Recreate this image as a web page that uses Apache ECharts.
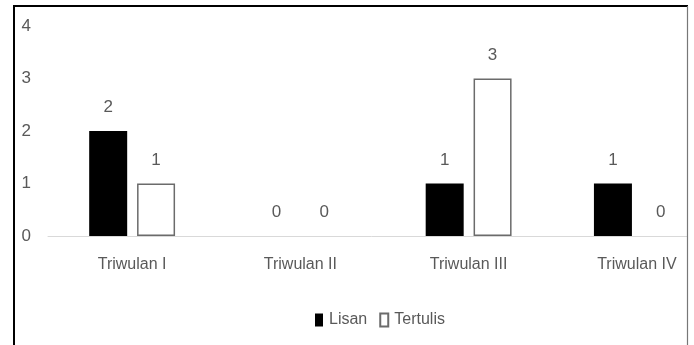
<!DOCTYPE html>
<html>
<head>
<meta charset="utf-8">
<script src="https://cdn.jsdelivr.net/npm/echarts@6/dist/echarts.min.js"></script>
<style>html,body{margin:0;padding:0;background:#fff}#c{width:694px;height:345px}</style>
</head>
<body>
<div id="c"></div>
<script>
const categories = ['Triwulan I', 'Triwulan II', 'Triwulan III', 'Triwulan IV'];
const lisan = [2, 0, 1, 1];
const tertulis = [1, 0, 3, 0];
const seriesNames = ['Lisan', 'Tertulis'];

const FONT = "'Liberation Sans Narrow', 'Liberation Sans', sans-serif";
const TXT = '#595959';
const chart = echarts.init(document.getElementById('c'), null, {renderer: 'canvas'});
const tertulisData = tertulis.map(v => (v === 0 ? {value: v, itemStyle: {borderWidth: 0}} : v));
chart.setOption({
  animation: false,
  backgroundColor: '#fff',
  textStyle: {fontFamily: FONT},
  grid: {left: 48, width: 673, top: 26, bottom: 109, containLabel: false, outerBoundsMode: 'none'},
  legend: {
    data: seriesNames,
    left: 310, top: 307,
    itemWidth: 8, itemHeight: 13, itemGap: 12,
    icon: 'rect',
    textStyle: {fontFamily: FONT, fontSize: 16, color: TXT, padding: [0,0,0,1]}
  },
  xAxis: {
    type: 'category', data: categories,
    axisLine: {lineStyle: {color: '#d9d9d9', width: 1}},
    axisTick: {show: false},
    axisLabel: {fontFamily: FONT, fontSize: 16, color: TXT, margin: 21}
  },
  yAxis: {
    type: 'value', min: 0, max: 4, interval: 1,
    splitLine: {show: false},
    axisLine: {show: false}, axisTick: {show: false},
    axisLabel: {fontFamily: FONT, fontSize: 17, color: TXT, margin: 17}
  },
  series: [
    {name: seriesNames[0], type: 'bar', data: lisan, barWidth: 38, barGap: '26%',
     itemStyle: {color: '#000', borderColor: '#000', borderWidth: 0},
     label: {show: true, position: 'top', distance: 15, fontFamily: FONT, fontSize: 17, color: TXT}},
    {name: seriesNames[1], type: 'bar', data: tertulisData, barWidth: 38,
     itemStyle: {color: '#fff', borderColor: '#6b6b6b', borderWidth: 1.5},
     label: {show: true, position: 'top', distance: 15, fontFamily: FONT, fontSize: 17, color: TXT}}
  ],
  graphic: [
    {type: 'rect', z: 100, shape: {x: 688, y: 0, width: 10, height: 345}, style: {fill: '#fff'}},
    {type: 'line', z: 101, shape: {x1: 14, y1: 6, x2: 14, y2: 345}, style: {stroke: '#000', lineWidth: 2}},
    {type: 'line', z: 101, shape: {x1: 13, y1: 6, x2: 688, y2: 6}, style: {stroke: '#000', lineWidth: 2}},
    {type: 'line', z: 101, shape: {x1: 687.5, y1: 6, x2: 687.5, y2: 345}, style: {stroke: '#777', lineWidth: 1.2}}
  ]
});
</script>
</body>
</html>
